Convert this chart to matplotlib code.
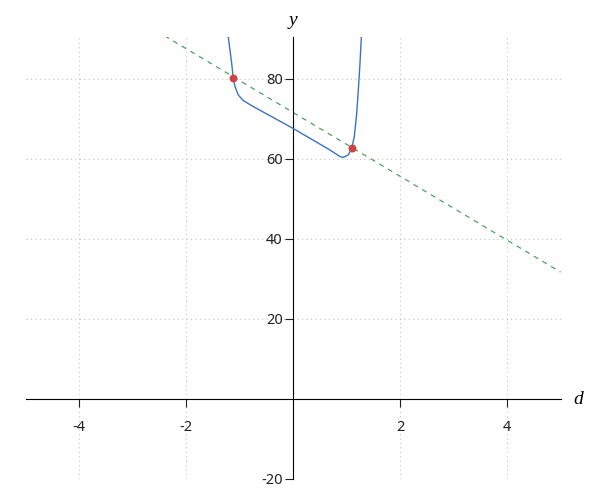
import matplotlib
matplotlib.use("Agg")
import matplotlib.pyplot as plt

plt.rcParams['font.family'] = ['Noto Sans', 'DejaVu Sans']
plt.rcParams['axes.unicode_minus'] = False

# curve
curveX = [-1.22, -1.209, -1.178, -1.146, -1.116, -1.084, -1.022, -0.929, -0.742, -0.305,
          -0.006, 0.692, 0.879, 0.940, 1.034, 1.097, 1.146, 1.191, 1.221, 1.252, 1.277, 1.285]
curveY = [94.0, 90.4, 87.25, 83.9, 80.1, 78.1, 76.0, 74.6, 73.1, 69.9,
          67.7, 62.25, 60.6, 60.4, 61.0, 62.7, 65.6, 71.4, 77.25, 83.9, 90.4, 93.0]

# dashed line
lineX = [-2.4, 5.0]
lineY = [90.8, 31.75]

# the two marked points
ptsX = [-1.116, 1.097]
ptsY = [80.3, 62.8]

xticks = [-4, -2, 2, 4]
yticks = [-20, 20, 40, 60, 80]

fig = plt.figure(figsize=(6, 5), dpi=100)
ax = fig.add_axes([25.5/600, 1-479/500, 535/600, 442/500])

ax.plot(curveX, curveY, color='#3b73c0', lw=1.0, zorder=3)
ax.plot(lineX, lineY, color='#4ca35a', lw=0.9, ls=(0, (4, 4)), zorder=2)
ax.scatter(ptsX, ptsY, s=22, color='#cc4444', zorder=4)

ax.set_xlim(-5, 5)
ax.set_ylim(-20, 90.5)

ax.spines['left'].set_position(('data', 0))
ax.spines['bottom'].set_position(('data', 0))
ax.spines['top'].set_visible(False)
ax.spines['right'].set_visible(False)

ax.set_xticks(xticks)
ax.set_yticks(yticks)
ax.tick_params(axis='x', direction='out', length=6, pad=9, labelsize=10.5, colors='#222222')
ax.tick_params(axis='y', direction='out', length=6, pad=1.5, labelsize=10.5, colors='#222222')

ax.grid(True, ls=(0, (1, 3)), color='#c4c4c4', lw=0.8)
ax.set_axisbelow(True)

ax.text(5.25, 0, 'd', fontsize=14, style='italic', family='Liberation Serif',
        ha='left', va='center')
ax.text(0, 92.5, 'y', fontsize=14, style='italic', family='Liberation Serif',
        ha='center', va='bottom', clip_on=False)

fig.savefig('out.png', dpi=100)
